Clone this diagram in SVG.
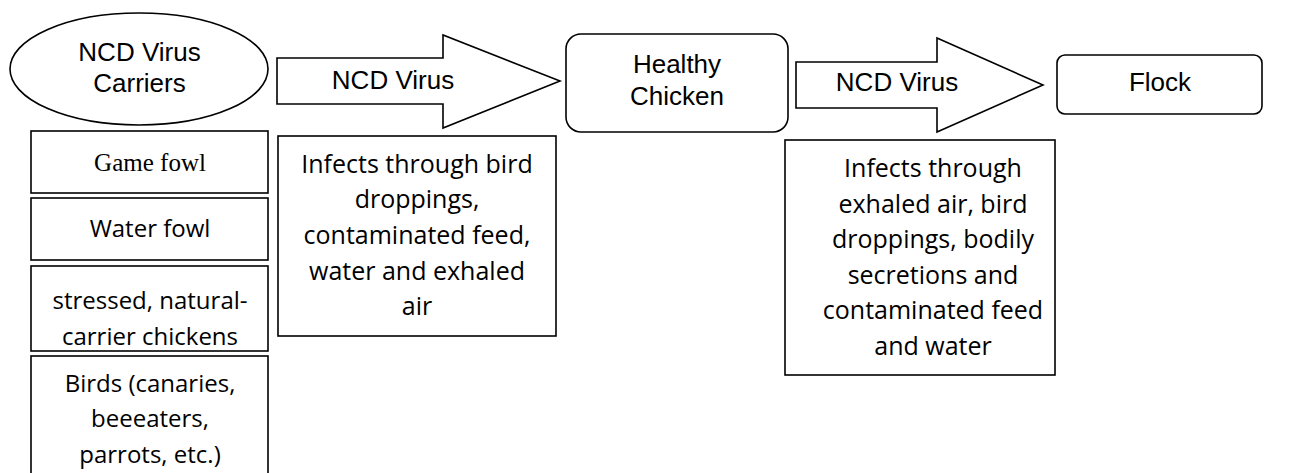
<svg xmlns="http://www.w3.org/2000/svg" width="1306" height="473" viewBox="0 0 1306 473">
<style>
.s{fill:#fff;stroke:#000;stroke-width:1.6}
.a{font-family:"Liberation Sans",Arial,sans-serif;font-size:26px;fill:#000;text-anchor:middle}
.h{font-family:"Open Sans","DejaVu Sans",sans-serif;font-size:25px;fill:#000;text-anchor:middle}
.hs{font-family:"Open Sans","DejaVu Sans",sans-serif;font-size:24px;fill:#000;text-anchor:middle}
.t{font-family:"Liberation Serif","Times New Roman",serif;font-size:25px;fill:#000;text-anchor:middle}
</style>
<rect width="1306" height="473" fill="#fff"/>
<g id="connectors">
<g id="arrow1">
<path class="s" d="M277,58 H443 V35 L560,81 L443,128 V104 H277 Z"/>
<text class="a" x="393" y="89">NCD Virus</text>
</g>
<g id="arrow2">
<path class="s" d="M796,62 H937 V38 L1043,85 L937,132 V108 H796 Z"/>
<text class="a" x="897" y="91">NCD Virus</text>
</g>
</g>
<g id="carriers">
<ellipse class="s" cx="139" cy="69" rx="129" ry="56"/>
<text class="a" x="139.5" y="61">NCD Virus</text>
<text class="a" x="139.5" y="92">Carriers</text>
</g>
<g id="game-fowl">
<rect class="s" x="31" y="131" width="237" height="62"/>
<text class="t" x="150" y="171">Game fowl</text>
</g>
<g id="water-fowl">
<rect class="s" x="31" y="198" width="237" height="62"/>
<text class="hs" x="150" y="237">Water fowl</text>
</g>
<g id="stressed">
<rect class="s" x="31" y="266" width="237" height="85"/>
<text class="hs" x="150" y="309">stressed, natural-</text>
<text class="hs" x="150" y="345">carrier chickens</text>
</g>
<g id="birds">
<rect class="s" x="31" y="356" width="237" height="125"/>
<text class="hs" x="150" y="392">Birds (canaries,</text>
<text class="hs" x="150" y="427">beeeaters,</text>
<text class="hs" x="150" y="463">parrots, etc.)</text>
</g>
<g id="infects1">
<rect class="s" x="278" y="136" width="278" height="200"/>
<text class="h" x="417" y="173">Infects through bird</text>
<text class="h" x="417" y="208">droppings,</text>
<text class="h" x="417" y="244">contaminated feed,</text>
<text class="h" x="417" y="280">water and exhaled</text>
<text class="h" x="417" y="315">air</text>
</g>
<g id="healthy-chicken">
<rect class="s" x="566" y="34" width="222" height="98" rx="15"/>
<text class="a" x="677" y="73">Healthy</text>
<text class="a" x="677" y="105">Chicken</text>
</g>
<g id="infects2">
<rect class="s" x="785" y="140" width="270" height="235"/>
<text class="h" x="933" y="177">Infects through</text>
<text class="h" x="933" y="213">exhaled air, bird</text>
<text class="h" x="933" y="248">droppings, bodily</text>
<text class="h" x="933" y="284">secretions and</text>
<text class="h" x="933" y="319">contaminated feed</text>
<text class="h" x="933" y="355">and water</text>
</g>
<g id="flock">
<rect class="s" x="1057" y="55" width="205" height="59" rx="8"/>
<text class="a" x="1160" y="91">Flock</text>
</g>
</svg>
